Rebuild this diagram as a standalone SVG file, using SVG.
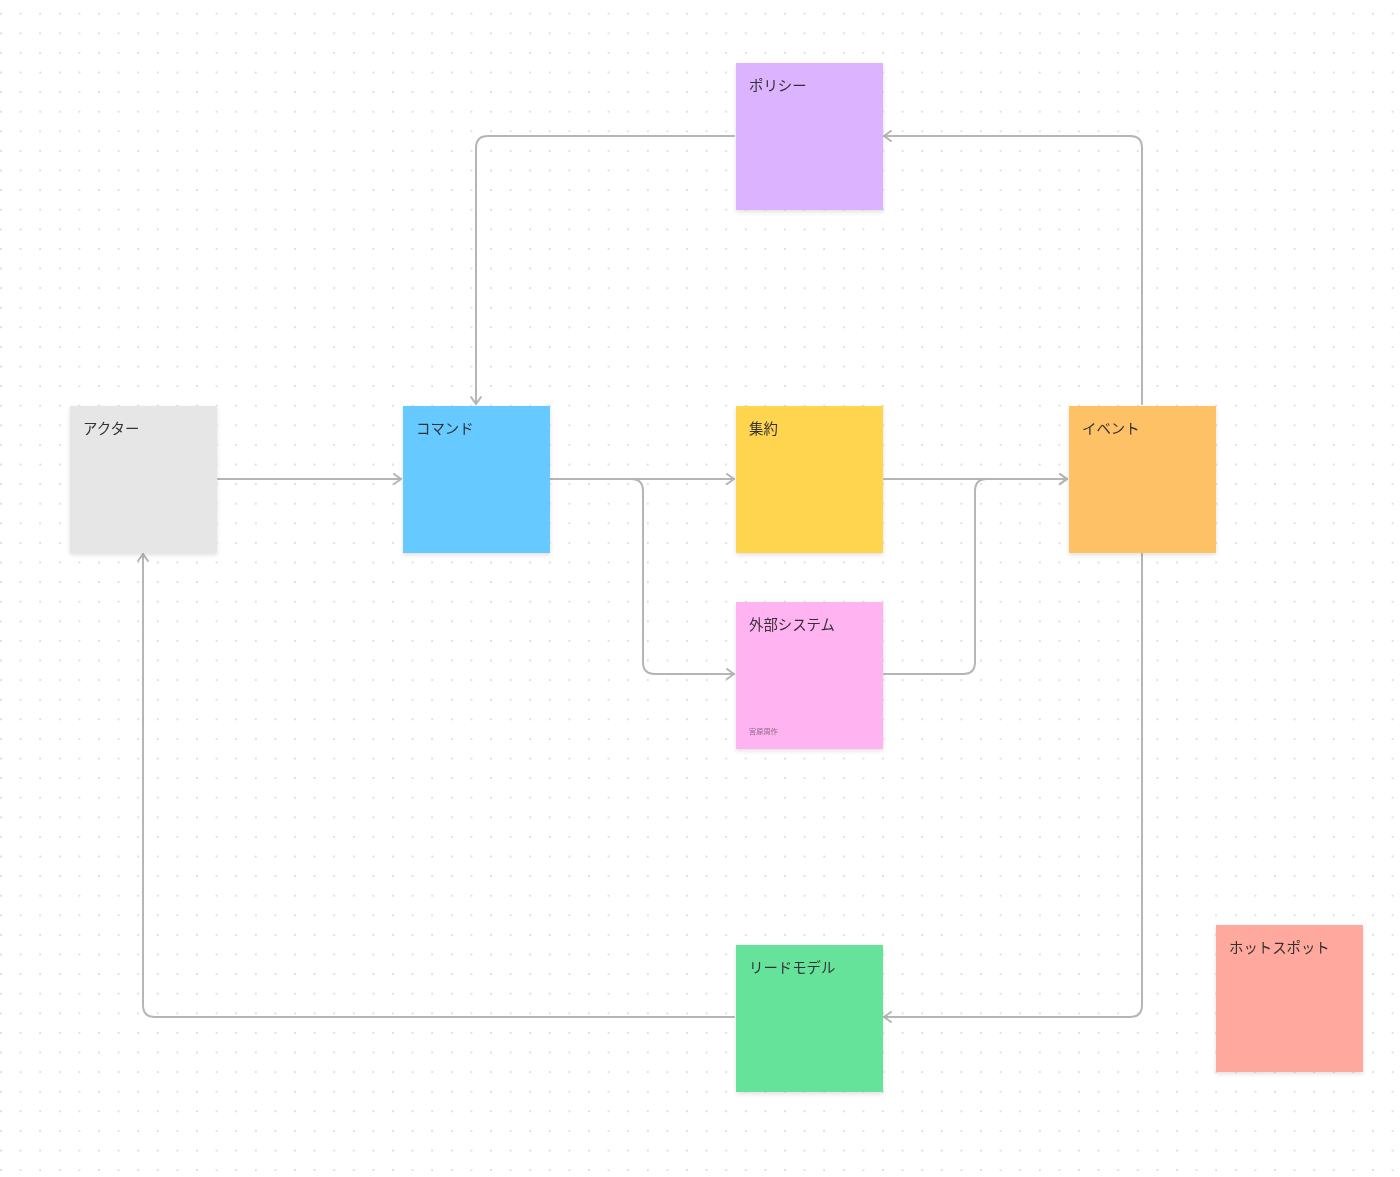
<svg xmlns="http://www.w3.org/2000/svg" width="1400" height="1177" viewBox="0 0 1400 1177">
<style>
.lbl{font-family:"Noto Sans CJK JP","Noto Sans",sans-serif;font-size:14.4px;fill:#333333}
.small{font-family:"Noto Sans CJK JP","Noto Sans",sans-serif;font-size:7.2px;fill:#8a6a88}
.conn{fill:none;stroke:#b5b5b5;stroke-width:2;stroke-linecap:round;stroke-linejoin:round}
.note{filter:url(#sh)}
</style>
<defs>
<pattern id="dots" x="1" y="13.7" width="19.6" height="19.6" patternUnits="userSpaceOnUse">
<circle cx="0" cy="0" r="0.9" fill="#d2d2d2"/>
<circle cx="19.6" cy="0" r="0.9" fill="#d2d2d2"/>
<circle cx="0" cy="19.6" r="0.9" fill="#d2d2d2"/>
<circle cx="19.6" cy="19.6" r="0.9" fill="#d2d2d2"/>
</pattern>
<filter id="sh" x="-10%" y="-10%" width="120%" height="125%">
<feDropShadow dx="0" dy="2" stdDeviation="2" flood-color="#000" flood-opacity="0.12"/>
</filter>
<marker id="arr" viewBox="0 0 12 12" refX="10" refY="6" markerWidth="12" markerHeight="12" markerUnits="userSpaceOnUse" orient="auto">
<path d="M3,1 L10,6 L3,11" fill="none" stroke="#b5b5b5" stroke-width="2" stroke-linecap="round" stroke-linejoin="round"/>
</marker>
</defs>
<rect width="1400" height="1177" fill="#ffffff"/>
<rect width="1400" height="1177" fill="url(#dots)"/>

<g id="connectors">
<path class="conn" d="M218,479 H401" marker-end="url(#arr)"/>
<path class="conn" d="M551,479 H734" marker-end="url(#arr)"/>
<path class="conn" d="M551,479 H631 Q643,479 643,491 V662 Q643,674 655,674 H734" marker-end="url(#arr)"/>
<path class="conn" d="M884,479 H1067" marker-end="url(#arr)"/>
<path class="conn" d="M884,674 H963 Q975,674 975,662 V491 Q975,479 987,479 H1067" marker-end="url(#arr)"/>
<path class="conn" d="M1142,404 V148 Q1142,136 1130,136 H884" marker-end="url(#arr)"/>
<path class="conn" d="M734,136 H488 Q476,136 476,148 V404" marker-end="url(#arr)"/>
<path class="conn" d="M1142,554 V1005 Q1142,1017 1130,1017 H884" marker-end="url(#arr)"/>
<path class="conn" d="M734,1017 H155 Q143,1017 143,1005 V554" marker-end="url(#arr)"/>
</g>

<g id="policy" class="note"><rect x="736" y="63" width="147" height="147" fill="#dcb3ff"/><text class="lbl" x="749" y="91">ポリシー</text></g>
<g id="actor" class="note"><rect x="70" y="406" width="147" height="147" fill="#e6e6e6"/><text class="lbl" x="83" y="434">アクター</text></g>
<g id="command" class="note"><rect x="403" y="406" width="147" height="147" fill="#66c9ff"/><text class="lbl" x="416" y="434">コマンド</text></g>
<g id="aggregate" class="note"><rect x="736" y="406" width="147" height="147" fill="#ffd54f"/><text class="lbl" x="749" y="434">集約</text></g>
<g id="event" class="note"><rect x="1069" y="406" width="147" height="147" fill="#ffc166"/><text class="lbl" x="1082" y="434">イベント</text></g>
<g id="external" class="note"><rect x="736" y="602" width="147" height="147" fill="#ffb3f0"/><text class="lbl" x="749" y="630">外部システム</text><text class="small" x="749" y="734">宮原周作</text></g>
<g id="readmodel" class="note"><rect x="736" y="945" width="147" height="147" fill="#66e39b"/><text class="lbl" x="749" y="973">リードモデル</text></g>
<g id="hotspot" class="note"><rect x="1216" y="925" width="147" height="147" fill="#ffa99e"/><text class="lbl" x="1229" y="953">ホットスポット</text></g>
</svg>
